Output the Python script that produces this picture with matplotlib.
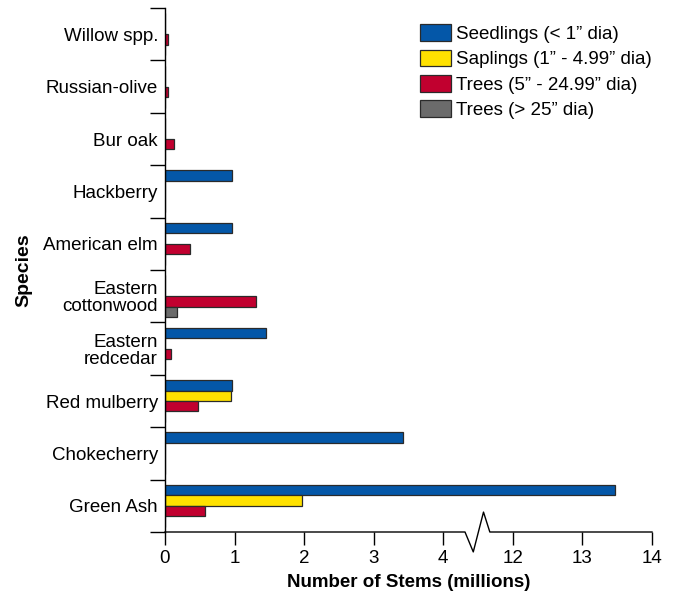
import numpy as np
import matplotlib
matplotlib.use("Agg")
import matplotlib.pyplot as plt
from matplotlib.lines import Line2D
from matplotlib.patches import Patch

plt.rcParams['font.family'] = ['Liberation Sans', 'DejaVu Sans']

species = ["Willow spp.", "Russian-olive", "Bur oak", "Hackberry", "American elm",
           "Eastern\ncottonwood", "Eastern\nredcedar", "Red mulberry", "Chokecherry", "Green Ash"]
seedlings = [0, 0, 0, 0.96, 0.96, 0, 1.45, 0.96, 3.42, 13.47]
saplings = [0, 0, 0, 0, 0, 0, 0, 0.95, 0, 1.97]
trees_mid = [0.05, 0.05, 0.13, 0, 0.36, 1.31, 0.09, 0.47, 0, 0.58]
trees_big = [0, 0, 0, 0, 0, 0.17, 0, 0, 0, 0]
series_labels = ["Seedlings (< 1\u201d dia)", "Saplings (1\u201d - 4.99\u201d dia)",
                 "Trees (5\u201d - 24.99\u201d dia)", "Trees (> 25\u201d dia)"]
colors = ["#0457A8", "#FFE100", "#C1002F", "#6B6B6B"]
xticks = [0, 1, 2, 3, 4, 12, 13, 14]


def fwd(x):
    x = np.asarray(x, dtype=float)
    return np.where(x <= 4, x, np.where(x >= 12, x - 7, 4 + (x - 4) / 8))


def inv(y):
    y = np.asarray(y, dtype=float)
    return np.where(y <= 4, y, np.where(y >= 5, y + 7, 4 + (y - 4) * 8))


fig = plt.figure(figsize=(6.73, 5.94), dpi=100)
ax = fig.add_axes([165/673, 62/594, (652-165)/673, (532-8)/594])
ax.set_xscale('function', functions=(fwd, inv))

n = len(species)
y = np.arange(n)
h = 0.2
all_series = [seedlings, saplings, trees_mid, trees_big]
for i, (vals, col) in enumerate(zip(all_series, colors)):
    off = (i - 1.5) * h
    ax.barh(y + off, vals, height=h, color=col, edgecolor="#2a2a2a", linewidth=0.9)

ax.set_xlim(0, 14)
ax.set_ylim(n - 0.5, -0.5)
ax.set_xticks(xticks)
ax.set_xticklabels([str(t) for t in xticks], fontsize=13.5)
ax.xaxis.set_minor_locator(matplotlib.ticker.NullLocator())
ax.tick_params(axis='x', length=9, width=1.0, pad=4)

ax.set_yticks(y)
ax.set_yticklabels(species, fontsize=13.5, linespacing=1.0)
ax.set_yticks(np.arange(-0.5, n, 1.0), minor=True)
ax.tick_params(axis='y', which='major', length=0, pad=5)
ax.tick_params(axis='y', which='minor', length=11, width=1.0)

for s in ['top', 'right', 'bottom']:
    ax.spines[s].set_visible(False)
ax.spines['left'].set_linewidth(1.0)

# bottom axis line with break zigzag
xs = [0, 0.616, 0.633, 0.654, 0.667, 1.0]
ys = [0, 0, -0.038, 0.038, 0, 0]
ax.add_line(Line2D(xs, ys, transform=ax.transAxes, color='black', lw=1.0, clip_on=False))

ax.set_xlabel("Number of Stems (millions)", fontsize=13.5, fontweight='bold', labelpad=5)
ax.set_ylabel("Species", fontsize=14, fontweight='bold', labelpad=8)

handles = [Patch(facecolor=c, edgecolor="#2a2a2a", linewidth=0.9) for c in colors]
ax.legend(handles, series_labels, loc='upper right', bbox_to_anchor=(1.0, 0.969),
          frameon=False, fontsize=13.5, handlelength=1.65, handleheight=1.0,
          handletextpad=0.3, labelspacing=0.35, borderaxespad=0.0, borderpad=0.0)

fig.savefig("out.png", dpi=100)
